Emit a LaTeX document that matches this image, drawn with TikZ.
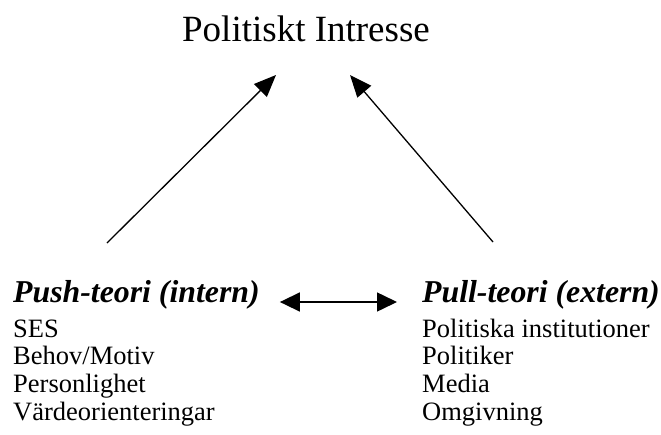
\documentclass[tikz,border=0pt]{standalone}
\usepackage{fontspec}
\setmainfont{Liberation Serif}
\usetikzlibrary{arrows.meta,
                positioning}
\tikzset{title/.style =
   {inner sep=0pt,
    font=\fontsize{37}{44}\selectfont}}
\tikzset{heading/.style =
   {inner sep=0pt,
    font=\fontsize{31.8}{38}\selectfont\bfseries\itshape}}
\tikzset{factor/.style =
   {inner sep=0pt,
    node distance=27.7pt,
    font=\fontsize{26.5}{32}\selectfont}}
\tikzset{arrow/.style = {draw, line width=1.3pt, -{Triangle[length=22pt,width=18pt]}}}
\tikzset{twoway/.style = {draw, line width=1.5pt,
    {Triangle[length=20pt,width=19pt]}-{Triangle[length=20pt,width=19pt]}}}

\begin{document}
\begin{tikzpicture}[x=1pt, y=-1pt]
    \useasboundingbox (0,0) rectangle (661,434);

    \node [title, anchor=base] (interest) at (306,41) {Politiskt Intresse};

    \node [heading, anchor=base west] (push) at (13,302) {Push-teori (intern)};
    \node [heading, anchor=base west] (pull) at (422,302) {Pull-teori (extern)};

    % push factors
    \node [factor, anchor=base west] (push-ses) at (13,337) {SES};
    \node [factor,
           below = of push-ses.base west,
           anchor=base west] (push-motive) {Behov/Motiv};
    \node [factor,
           below = of push-motive.base west,
           anchor=base west] (push-person) {Personlighet};
    \node [factor,
           below = of push-person.base west,
           anchor=base west] (push-values) {V\"ardeorienteringar};

    % pull factors
    \node [factor, anchor=base west] (pull-inst) at (422,337) {Politiska institutioner};
    \node [factor,
           below = of pull-inst.base west,
           anchor=base west] (pull-polit) {Politiker};
    \node [factor,
           below = of pull-polit.base west,
           anchor=base west] (pull-media) {Media};
    \node [factor,
           below = of pull-media.base west,
           anchor=base west] (pull-env) {Omgivning};

    \coordinate (push-top) at (107,243);
    \coordinate (interest-west) at (276,75);
    \coordinate (pull-top) at (493,242);
    \coordinate (interest-east) at (350,75);

    \draw [arrow] (push-top) -- (interest-west);
    \draw [arrow] (pull-top) -- (interest-east);
    \draw [twoway, shorten <=20pt, shorten >=25pt] (push.base east) -- (pull.base west);

\end{tikzpicture}
\end{document}
